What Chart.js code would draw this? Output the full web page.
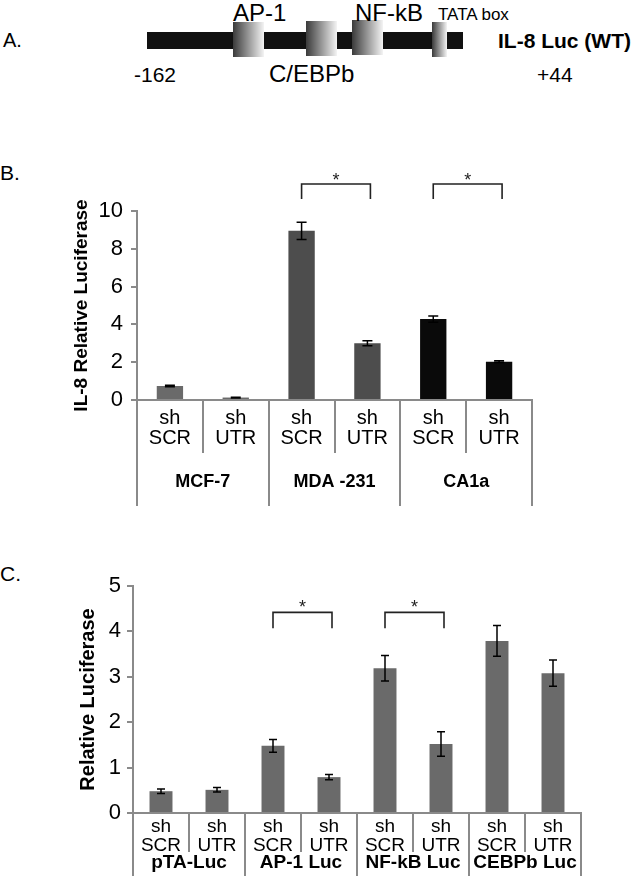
<!DOCTYPE html>
<html>
<head>
<meta charset="utf-8">
<script src="https://cdn.jsdelivr.net/npm/chart.js@4.4.1/dist/chart.umd.min.js"></script>
<style>
  body { margin: 0; background: #fff; width: 641px; height: 876px; position: relative; overflow: hidden;
         font-family: "Liberation Sans", Arial, sans-serif; color: #000; }
  .t { position: absolute; white-space: nowrap; line-height: 1; }
  .box { position: absolute; background: linear-gradient(to right, #3a3a3a, #f4f4f4); }
  canvas { position: absolute; left: 0; }
</style>
</head>
<body>
  <!-- A: promoter schematic -->
  <div class="t" style="left:3px;top:30px;font-size:20px">A.</div>
  <div style="position:absolute;left:147px;top:32px;width:316px;height:17px;background:#111"></div>
  <div class="box" style="left:233px;top:22px;width:31px;height:35px"></div>
  <div class="box" style="left:306px;top:21px;width:31px;height:35px"></div>
  <div class="box" style="left:352px;top:20px;width:31px;height:35px"></div>
  <div class="box" style="left:432px;top:22px;width:15px;height:35px"></div>
  <div class="t" style="left:233px;top:1px;font-size:24px">AP-1</div>
  <div class="t" style="left:355px;top:1px;font-size:24px">NF-kB</div>
  <div class="t" style="left:438px;top:6px;font-size:17px">TATA box</div>
  <div class="t" style="left:134px;top:64px;font-size:21px">-162</div>
  <div class="t" style="left:269px;top:62px;font-size:24px">C/EBPb</div>
  <div class="t" style="left:537px;top:64px;font-size:21px">+44</div>
  <div class="t" style="left:498px;top:30px;font-size:21px;font-weight:bold">IL-8 Luc (WT)</div>

  <div class="t" style="left:0px;top:162px;font-size:21px">B.</div>
  <canvas id="chartB" width="641" height="380" style="top:150px;width:641px;height:380px"></canvas>

  <div class="t" style="left:0px;top:563px;font-size:21px">C.</div>
  <canvas id="chartC" width="641" height="336" style="top:540px;width:641px;height:336px"></canvas>

<script>
// ---- panel B data ----
const catsB = [['sh', 'SCR'], ['sh', 'UTR'], ['sh', 'SCR'], ['sh', 'UTR'], ['sh', 'SCR'], ['sh', 'UTR']];
const groupsB = ['MCF-7', 'MDA -231', 'CA1a'];
const valuesB = [0.74, 0.13, 8.95, 3.0, 4.28, 2.03];
const errB = [0.04, 0.02, 0.46, 0.13, 0.17, 0.05];
const ticksB = [0, 2, 4, 6, 8, 10];
const sigB = [[2, 3], [4, 5]];

// ---- panel C data ----
const catsC = [['sh', 'SCR'], ['sh', 'UTR'], ['sh', 'SCR'], ['sh', 'UTR'],
               ['sh', 'SCR'], ['sh', 'UTR'], ['sh', 'SCR'], ['sh', 'UTR']];
const groupsC = ['pTA-Luc', 'AP-1 Luc', 'NF-kB Luc', 'CEBPb Luc'];
const valuesC = [0.48, 0.51, 1.48, 0.79, 3.19, 1.52, 3.79, 3.08];
const errC = [0.05, 0.05, 0.14, 0.06, 0.28, 0.27, 0.34, 0.29];
const ticksC = [0, 1, 2, 3, 4, 5];
const sigC = [[2, 3], [4, 5]];

const AXIS = '#8a8a8a';
const FONT = '"Liberation Sans", Arial, sans-serif';

// excel-style two level category axis: separators + group names
function catAxis(groups, shortLen, longLen, groupY, groupFont) {
  return {
    id: 'catAxis',
    afterDraw(chart) {
      const x = chart.scales.x;
      const ctx = chart.ctx;
      const n = chart.data.labels.length;
      const per = n / groups.length;
      const step = x.getPixelForValue(1) - x.getPixelForValue(0);
      const x0 = x.getPixelForValue(0) - step / 2;
      ctx.save();
      ctx.strokeStyle = AXIS;
      ctx.lineWidth = 2;
      for (let i = 0; i <= n; i++) {
        const px = Math.round(x0 + i * step);
        const len = i % per === 0 ? longLen : shortLen;
        ctx.beginPath();
        ctx.moveTo(px, x.top);
        ctx.lineTo(px, x.top + len);
        ctx.stroke();
      }
      ctx.fillStyle = '#000';
      ctx.font = groupFont;
      ctx.textAlign = 'center';
      ctx.textBaseline = 'middle';
      groups.forEach((g, j) => {
        const c = (x.getPixelForValue(j * per) + x.getPixelForValue(j * per + per - 1)) / 2;
        ctx.fillText(g, c, x.top + groupY);
      });
      ctx.restore();
    },
  };
}

function errorBars(err, cap) {
  return {
    id: 'errorBars',
    afterDatasetsDraw(chart) {
      const y = chart.scales.y;
      const ctx = chart.ctx;
      const vals = chart.data.datasets[0].data;
      ctx.save();
      ctx.strokeStyle = '#000';
      ctx.lineWidth = 1.5;
      chart.getDatasetMeta(0).data.forEach((bar, i) => {
        const hi = y.getPixelForValue(vals[i] + err[i]);
        const lo = y.getPixelForValue(vals[i] - err[i]);
        ctx.beginPath();
        ctx.moveTo(bar.x, hi); ctx.lineTo(bar.x, lo);
        ctx.moveTo(bar.x - cap, hi); ctx.lineTo(bar.x + cap, hi);
        ctx.moveTo(bar.x - cap, lo); ctx.lineTo(bar.x + cap, lo);
        ctx.stroke();
      });
      ctx.restore();
    },
  };
}

function brackets(pairs, top, leg, star) {
  return {
    id: 'brackets',
    afterDraw(chart) {
      const x = chart.scales.x;
      const y = chart.scales.y;
      const ctx = chart.ctx;
      ctx.save();
      ctx.strokeStyle = '#222';
      ctx.lineWidth = 1.6;
      ctx.fillStyle = '#222';
      ctx.font = '18px ' + FONT;
      ctx.textAlign = 'center';
      ctx.textBaseline = 'alphabetic';
      pairs.forEach(([a, b]) => {
        const xa = x.getPixelForValue(a);
        const xb = x.getPixelForValue(b) + 3;
        const yt = y.getPixelForValue(top);
        const yl = y.getPixelForValue(leg);
        ctx.beginPath();
        ctx.moveTo(xa, yl); ctx.lineTo(xa, yt); ctx.lineTo(xb, yt); ctx.lineTo(xb, yl);
        ctx.stroke();
        ctx.fillText('*', (xa + xb) / 2, y.getPixelForValue(star) + 10);
      });
      ctx.restore();
    },
  };
}

function panel(id, o) {
  return new Chart(document.getElementById(id), {
    type: 'bar',
    data: {
      labels: o.cats,
      datasets: [{
        data: o.values,
        backgroundColor: o.colors,
        borderWidth: 0,
        barPercentage: o.barPct,
        categoryPercentage: 1,
      }],
    },
    options: {
      responsive: false,
      animation: false,
      layout: { padding: { top: o.padTop, right: o.padRight, left: 0, bottom: 0 } },
      plugins: { legend: { display: false }, tooltip: { enabled: false } },
      scales: {
        x: {
          grid: { display: false, drawTicks: false },
          border: { display: true, color: AXIS, width: 2 },
          ticks: {
            autoSkip: false, maxRotation: 0, minRotation: 0, padding: o.xPad, color: '#000',
            font: { family: FONT, size: o.catSize, lineHeight: 1 },
          },
          afterFit(s) { s.height = o.xHeight; },
        },
        y: {
          min: o.ticks[0],
          max: o.ticks[o.ticks.length - 1],
          ticks: { stepSize: o.ticks[1] - o.ticks[0], padding: o.yPad, color: '#000',
                   font: { family: FONT, size: o.tickSize } },
          grid: { drawOnChartArea: false, drawTicks: true, tickLength: 6, color: AXIS, lineWidth: 2 },
          border: { display: true, color: AXIS, width: 2 },
          title: {
            display: true, text: o.title, color: '#000',
            font: { family: FONT, size: o.titleSize, weight: 'bold' },
            padding: { top: o.titlePad, bottom: 0 },
          },
          afterFit(s) { s.width = o.yWidth; },
        },
      },
    },
    plugins: o.plugins,
  });
}

panel('chartB', {
  cats: catsB, values: valuesB, ticks: ticksB,
  colors: ['#6a6a6a', '#6a6a6a', '#4d4d4d', '#4d4d4d', '#0a0a0a', '#0a0a0a'],
  barPct: 0.4, padTop: 61, padRight: 109, xHeight: 130, yWidth: 137,
  xPad: 8, catSize: 20, yPad: 8, tickSize: 22,
  title: 'IL-8 Relative Luciferase', titleSize: 19, titlePad: 70,
  plugins: [
    catAxis(groupsB, 53, 106, 82, 'bold 18px ' + FONT),
    errorBars(errB, 5),
    brackets(sigB, 11.43, 10.63, 11.83),
  ],
});

panel('chartC', {
  cats: catsC, values: valuesC, ticks: ticksC,
  colors: valuesC.map(() => '#6a6a6a'),
  barPct: 0.41, padTop: 46, padRight: 60, xHeight: 63, yWidth: 133,
  xPad: 4, catSize: 19, yPad: 6, tickSize: 22,
  title: 'Relative Luciferase', titleSize: 20, titlePad: 76,
  plugins: [
    catAxis(groupsC, 39, 63, 50, 'bold 19px ' + FONT),
    errorBars(errC, 4),
    brackets(sigC, 4.42, 4.07, 4.63),
  ],
});
</script>
</body>
</html>
